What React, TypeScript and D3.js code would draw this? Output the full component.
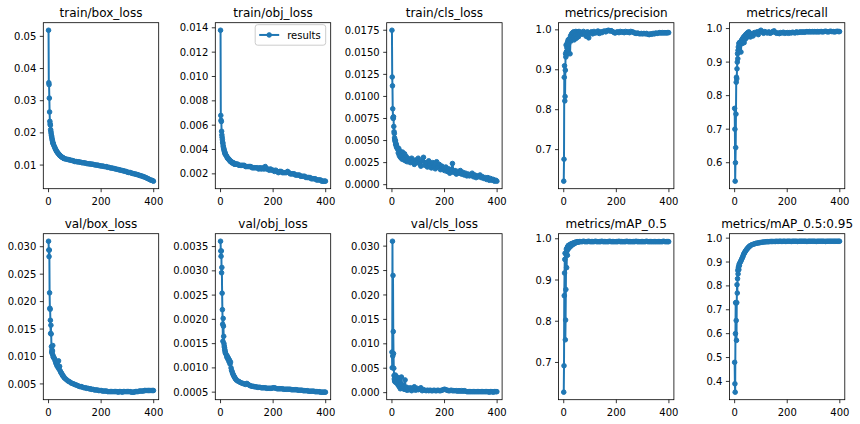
import {useEffect, useRef} from "react";
import * as d3 from "d3";

const EPOCHS = [
  0, 1, 2, 3, 4, 5, 6, 7, 8, 9, 10, 11, 12, 13, 14, 15, 16, 17, 18, 19,
  22, 24, 26, 28, 30, 32, 34, 36, 38, 40, 42, 44, 46, 48, 50, 52, 54, 56, 58, 60,
  65, 70, 75, 80, 85, 90, 95, 100,
  105, 110, 115, 120, 125, 130, 135, 140, 145, 150,
  155, 160, 165, 170, 175, 180, 185, 190, 195, 200,
  205, 210, 215, 220, 225, 230, 235, 240, 245, 250,
  255, 260, 265, 270, 275, 280, 285, 290, 295, 300,
  305, 310, 315, 320, 325, 330, 335, 340, 345, 350,
  355, 360, 365, 370, 375, 380, 385, 390, 395,
  399,
];

const trainBoxLoss = [
  0.0519, 0.0356, 0.035, 0.0308, 0.0265, 0.0236, 0.0228, 0.0224, 0.021, 0.0204, 0.0198, 0.0192, 0.0188, 0.0183, 0.0178, 0.0175, 0.0171, 0.0168, 0.0166, 0.0163,
  0.0158, 0.0154, 0.015, 0.0147, 0.0144, 0.0141, 0.0139, 0.0137, 0.0135, 0.0133, 0.0131, 0.0129, 0.0128, 0.0127, 0.0125, 0.0124, 0.0123, 0.0122, 0.0121, 0.012,
  0.0119, 0.0118, 0.0117, 0.0116, 0.0115, 0.0114, 0.0113, 0.0111,
  0.0111, 0.011, 0.011, 0.0109, 0.0108, 0.0107, 0.0107, 0.0106, 0.0105, 0.0104,
  0.0104, 0.0103, 0.0103, 0.0102, 0.0101, 0.01, 0.01, 0.0099, 0.0098, 0.0097,
  0.0097, 0.0096, 0.0095, 0.0095, 0.0093, 0.0093, 0.0091, 0.0091, 0.009, 0.0089,
  0.0088, 0.0087, 0.0086, 0.0085, 0.0084, 0.0083, 0.0082, 0.0081, 0.008, 0.0078,
  0.0077, 0.0077, 0.0075, 0.0074, 0.0073, 0.0072, 0.0071, 0.007, 0.0068, 0.0067,
  0.0066, 0.0064, 0.0063, 0.0061, 0.0059, 0.0057, 0.0055, 0.0053, 0.0052,
  0.005,
];

const trainObjLoss = [
  0.0138, 0.0068, 0.0064, 0.0063, 0.0055, 0.0052, 0.005, 0.0048, 0.0046, 0.0045, 0.0043, 0.0042, 0.0041, 0.004, 0.0039, 0.0038, 0.0038, 0.0037, 0.0036, 0.0036,
  0.0035, 0.0034, 0.0033, 0.0033, 0.0032, 0.0032, 0.0031, 0.0031, 0.003, 0.003, 0.003, 0.0029, 0.0029, 0.0029, 0.0029, 0.0028, 0.0028, 0.0028, 0.0028, 0.0028,
  0.0028, 0.0027, 0.0027, 0.0027, 0.0027, 0.0027, 0.0026, 0.0026,
  0.0026, 0.0026, 0.0026, 0.0025, 0.0025, 0.0025, 0.0025, 0.0025, 0.0024, 0.0025,
  0.0024, 0.0025, 0.0024, 0.0026, 0.0024, 0.0024, 0.0023, 0.0024, 0.0023, 0.0023,
  0.0022, 0.0023, 0.0022, 0.0021, 0.0022, 0.0022, 0.0021, 0.0021, 0.0021, 0.0021,
  0.0022, 0.0021, 0.002, 0.002, 0.002, 0.002, 0.0019, 0.0019, 0.0019, 0.0019,
  0.0018, 0.0018, 0.0018, 0.0018, 0.0017, 0.0017, 0.0017, 0.0017, 0.0016, 0.0016,
  0.0016, 0.0016, 0.0015, 0.0015, 0.0015, 0.0015, 0.0014, 0.0014, 0.0014,
  0.0014,
];

const trainClsLoss = [
  0.0175, 0.0122, 0.0112, 0.0086, 0.0076, 0.0075, 0.0077, 0.0066, 0.006, 0.0058, 0.0053, 0.0051, 0.0049, 0.005, 0.0046, 0.0047, 0.0044, 0.0045, 0.0042, 0.0043,
  0.004, 0.0036, 0.0041, 0.0033, 0.0038, 0.0031, 0.0036, 0.0034, 0.0029, 0.0037, 0.003, 0.0033, 0.0028, 0.0035, 0.0031, 0.0027, 0.0032, 0.0029, 0.0026, 0.003,
  0.0028, 0.0025, 0.003, 0.0026, 0.0023, 0.0028, 0.0025, 0.003,
  0.0024, 0.0021, 0.0027, 0.0031, 0.0022, 0.0025, 0.002, 0.0027, 0.0023, 0.0019,
  0.0025, 0.0021, 0.0018, 0.0026, 0.002, 0.0023, 0.0017, 0.0021, 0.0018, 0.0016,
  0.002, 0.0015, 0.0018, 0.0013, 0.0017, 0.0024, 0.0014, 0.0016, 0.0012, 0.0015,
  0.0013, 0.0016, 0.0012, 0.0014, 0.0011, 0.0013, 0.001, 0.0012, 0.001, 0.0011,
  0.0013, 0.0009, 0.0011, 0.0008, 0.001, 0.0009, 0.0011, 0.0008, 0.0009, 0.0007,
  0.0008, 0.0006, 0.0008, 0.0005, 0.0007, 0.0005, 0.0006, 0.0004, 0.0005,
  0.0004,
];

const precision = [
  0.621, 0.676, 0.881, 0.91, 0.822, 0.833, 0.899, 0.94, 0.932, 0.962, 0.945, 0.938, 0.955, 0.966, 0.948, 0.97, 0.958, 0.975, 0.963, 0.942,
  0.978, 0.94, 0.985, 0.972, 0.99, 0.976, 0.993, 0.981, 0.995, 0.975, 0.994, 0.985, 0.996, 0.979, 0.993, 0.988, 0.995, 0.983, 0.996, 0.99,
  0.994, 0.989, 0.996, 0.991, 0.984, 0.995, 0.98, 0.992,
  0.995, 0.99, 0.996, 0.992, 0.994, 0.997, 0.991, 0.995, 0.993, 0.996,
  0.997, 0.995, 0.998, 0.999, 0.997, 0.998, 0.996, 0.994, 0.992, 0.994,
  0.995, 0.993, 0.996, 0.994, 0.995, 0.993, 0.996, 0.994, 0.995, 0.993,
  0.996, 0.995, 0.994, 0.992, 0.991, 0.992, 0.991, 0.99, 0.991, 0.99,
  0.991, 0.99, 0.991, 0.989, 0.988, 0.99, 0.989, 0.991, 0.99, 0.992,
  0.991, 0.992, 0.993, 0.992, 0.993, 0.992, 0.993, 0.992, 0.993,
  0.993,
];

const recall = [
  0.762, 0.7, 0.545, 0.6, 0.645, 0.745, 0.84, 0.855, 0.85, 0.88, 0.9, 0.925, 0.91, 0.935, 0.945, 0.93, 0.955, 0.94, 0.958, 0.95,
  0.96, 0.93, 0.965, 0.955, 0.97, 0.962, 0.975, 0.958, 0.978, 0.968, 0.982, 0.972, 0.985, 0.975, 0.988, 0.978, 0.99, 0.98, 0.986, 0.975,
  0.983, 0.978, 0.988, 0.985, 0.99, 0.982, 0.992, 0.995,
  0.99, 0.986, 0.991, 0.988, 0.987, 0.99, 0.986, 0.988, 0.991, 0.993,
  0.988, 0.986, 0.987, 0.985, 0.988, 0.987, 0.989, 0.986, 0.987, 0.988,
  0.986, 0.988, 0.987, 0.989, 0.988, 0.987, 0.99, 0.988, 0.989, 0.99,
  0.989, 0.99, 0.989, 0.99, 0.991, 0.99, 0.991, 0.99, 0.991, 0.99,
  0.991, 0.99, 0.991, 0.99, 0.991, 0.991, 0.99, 0.991, 0.992, 0.991,
  0.99, 0.991, 0.992, 0.991, 0.991, 0.99, 0.991, 0.992, 0.991,
  0.991,
];

const valBoxLoss = [
  0.031, 0.0294, 0.0282, 0.0294, 0.0216, 0.0188, 0.0186, 0.0166, 0.0142, 0.0157, 0.0141, 0.0118, 0.0108, 0.0112, 0.0105, 0.011, 0.012, 0.0102, 0.0099, 0.0098,
  0.0097, 0.0094, 0.0091, 0.0088, 0.0086, 0.0083, 0.009, 0.008, 0.0092, 0.0077, 0.0082, 0.0074, 0.0072, 0.007, 0.0069, 0.0067, 0.0065, 0.0064, 0.0063, 0.0061,
  0.0059, 0.0057, 0.0055, 0.0054, 0.0052, 0.0051, 0.005, 0.0049,
  0.0048, 0.0047, 0.0046, 0.0045, 0.0045, 0.0044, 0.0043, 0.0043, 0.0042, 0.0042,
  0.0041, 0.0041, 0.004, 0.004, 0.0039, 0.0039, 0.0039, 0.0038, 0.0038, 0.0038,
  0.0037, 0.0037, 0.0037, 0.0037, 0.0036, 0.0036, 0.0036, 0.0036, 0.0036, 0.0036,
  0.0036, 0.0036, 0.0035, 0.0036, 0.0036, 0.0035, 0.0036, 0.0036, 0.0036, 0.0036,
  0.0036, 0.0036, 0.0035, 0.0035, 0.0035, 0.0036, 0.0036, 0.0036, 0.0037, 0.0037,
  0.0037, 0.0037, 0.0038, 0.0038, 0.0038, 0.0038, 0.0038, 0.0038, 0.0038,
  0.0038,
];

const valObjLoss = [
  0.00361, 0.00341, 0.0033, 0.00341, 0.00296, 0.00307, 0.00254, 0.0022, 0.0019, 0.00155, 0.00202, 0.00186, 0.00165, 0.0015, 0.00145, 0.00142, 0.00138, 0.00135, 0.00132, 0.0013,
  0.00127, 0.00122, 0.00124, 0.00118, 0.0012, 0.00113, 0.00116, 0.00108, 0.00112, 0.001, 0.00095, 0.00092, 0.00089, 0.00086, 0.00084, 0.00082, 0.0008, 0.00078, 0.00077, 0.00075,
  0.00073, 0.00072, 0.0007, 0.00069, 0.00068, 0.00067, 0.00066, 0.00068,
  0.00066, 0.00064, 0.00063, 0.00062, 0.00062, 0.00061, 0.00061, 0.0006, 0.0006, 0.0006,
  0.00059, 0.00059, 0.00059, 0.00059, 0.00058, 0.00058, 0.00058, 0.00058, 0.00058, 0.00059,
  0.00059, 0.00058, 0.00057, 0.00057, 0.00057, 0.00057, 0.00057, 0.00056, 0.00056, 0.00056,
  0.00056, 0.00056, 0.00056, 0.00055, 0.00055, 0.00055, 0.00055, 0.00055, 0.00054, 0.00054,
  0.00054, 0.00054, 0.00053, 0.00053, 0.00053, 0.00053, 0.00052, 0.00052, 0.00052, 0.00052,
  0.00052, 0.00051, 0.00051, 0.00051, 0.00051, 0.0005, 0.0005, 0.0005, 0.0005,
  0.0005,
];

const valClsLoss = [
  0.0083, 0.0051, 0.031, 0.0075, 0.024, 0.0125, 0.008, 0.005, 0.0035, 0.0028, 0.0024, 0.0033, 0.0022, 0.0036, 0.0026, 0.003, 0.0021, 0.0033, 0.0025, 0.0019,
  0.0028, 0.0015, 0.003, 0.0012, 0.0022, 0.0008, 0.0018, 0.0032, 0.001, 0.0016, 0.0009, 0.0013, 0.0007, 0.0012, 0.0026, 0.0009, 0.0006, 0.0011, 0.0005, 0.0009,
  0.0006, 0.001, 0.0004, 0.0008, 0.0012, 0.0005, 0.0009, 0.0006,
  0.0007, 0.001, 0.0004, 0.0006, 0.0005, 0.0004, 0.0005, 0.0004, 0.0005, 0.0004,
  0.0004, 0.0005, 0.0004, 0.0004, 0.0005, 0.0004, 0.0004, 0.0005, 0.0006, 0.0007,
  0.0006, 0.0005, 0.0004, 0.0004, 0.0005, 0.0004, 0.0004, 0.0004, 0.0004, 0.0003,
  0.0004, 0.0003, 0.0004, 0.0003, 0.0004, 0.0003, 0.0002, 0.0002, 0.0002, 0.0002,
  0.0002, 0.0002, 0.0002, 0.0002, 0.0002, 0.0002, 0.0002, 0.0002, 0.0002, 0.0002,
  0.0002, 0.0002, 0.0002, 0.0001, 0.0002, 0.0002, 0.0001, 0.0002, 0.0002,
  0.0002,
];

const mAP50 = [
  0.628, 0.692, 0.862, 0.917, 0.95, 0.965, 0.755, 0.803, 0.877, 0.962, 0.975, 0.93, 0.97, 0.978, 0.96, 0.98, 0.982, 0.975, 0.984, 0.978,
  0.985, 0.98, 0.987, 0.983, 0.988, 0.985, 0.989, 0.987, 0.99, 0.988, 0.991, 0.99, 0.992, 0.991, 0.992, 0.992, 0.993, 0.992, 0.993, 0.993,
  0.993, 0.993, 0.994, 0.993, 0.993, 0.993, 0.994, 0.993,
  0.993, 0.993, 0.993, 0.994, 0.993, 0.993, 0.993, 0.993, 0.994, 0.993,
  0.993, 0.993, 0.993, 0.993, 0.994, 0.993, 0.993, 0.993, 0.993, 0.993,
  0.993, 0.994, 0.993, 0.993, 0.993, 0.993, 0.993, 0.994, 0.993, 0.993,
  0.993, 0.993, 0.993, 0.993, 0.994, 0.993, 0.993, 0.993, 0.993, 0.993,
  0.993, 0.993, 0.994, 0.993, 0.993, 0.993, 0.993, 0.993, 0.993, 0.993,
  0.993, 0.993, 0.993, 0.993, 0.993, 0.994, 0.993, 0.993, 0.993,
  0.993,
];

const mAP5095 = [
  0.48, 0.39, 0.355, 0.6, 0.73, 0.728, 0.655, 0.572, 0.73, 0.805, 0.77, 0.83, 0.865, 0.85, 0.875, 0.88, 0.868, 0.89, 0.885, 0.895,
  0.9, 0.905, 0.91, 0.915, 0.92, 0.925, 0.932, 0.935, 0.94, 0.943, 0.947, 0.95, 0.953, 0.956, 0.958, 0.961, 0.963, 0.965, 0.967, 0.969,
  0.972, 0.974, 0.976, 0.978, 0.979, 0.98, 0.981, 0.982,
  0.983, 0.984, 0.984, 0.985, 0.985, 0.985, 0.986, 0.986, 0.986, 0.986,
  0.986, 0.987, 0.986, 0.987, 0.987, 0.986, 0.987, 0.987, 0.986, 0.987,
  0.987, 0.987, 0.986, 0.987, 0.987, 0.987, 0.987, 0.986, 0.987, 0.987,
  0.987, 0.987, 0.987, 0.987, 0.986, 0.987, 0.987, 0.987, 0.987, 0.987,
  0.987, 0.986, 0.987, 0.987, 0.987, 0.987, 0.987, 0.987, 0.986, 0.987,
  0.987, 0.987, 0.987, 0.987, 0.987, 0.987, 0.987, 0.987, 0.987,
  0.987,
];

// tick labels per panel
const X_TICKS = ["0", "200", "400"];
const TICKS_TRAIN_BOX = ["0.01", "0.02", "0.03", "0.04", "0.05"];
const TICKS_TRAIN_OBJ = ["0.002", "0.004", "0.006", "0.008", "0.010", "0.012", "0.014"];
const TICKS_TRAIN_CLS = ["0.0000", "0.0025", "0.0050", "0.0075", "0.0100", "0.0125", "0.0150", "0.0175"];
const TICKS_PRECISION = ["0.7", "0.8", "0.9", "1.0"];
const TICKS_RECALL = ["0.6", "0.7", "0.8", "0.9", "1.0"];
const TICKS_VAL_BOX = ["0.005", "0.010", "0.015", "0.020", "0.025", "0.030"];
const TICKS_VAL_OBJ = ["0.0005", "0.0010", "0.0015", "0.0020", "0.0025", "0.0030", "0.0035"];
const TICKS_VAL_CLS = ["0.000", "0.005", "0.010", "0.015", "0.020", "0.025", "0.030"];
const TICKS_MAP50 = ["0.7", "0.8", "0.9", "1.0"];
const TICKS_MAP5095 = ["0.4", "0.5", "0.6", "0.7", "0.8", "0.9", "1.0"];

const PANELS = [
  {title: "train/box_loss", values: trainBoxLoss, yTicks: TICKS_TRAIN_BOX},
  {title: "train/obj_loss", values: trainObjLoss, yTicks: TICKS_TRAIN_OBJ},
  {title: "train/cls_loss", values: trainClsLoss, yTicks: TICKS_TRAIN_CLS},
  {title: "metrics/precision", values: precision, yTicks: TICKS_PRECISION},
  {title: "metrics/recall", values: recall, yTicks: TICKS_RECALL},
  {title: "val/box_loss", values: valBoxLoss, yTicks: TICKS_VAL_BOX},
  {title: "val/obj_loss", values: valObjLoss, yTicks: TICKS_VAL_OBJ},
  {title: "val/cls_loss", values: valClsLoss, yTicks: TICKS_VAL_CLS},
  {title: "metrics/mAP_0.5", values: mAP50, yTicks: TICKS_MAP50},
  {title: "metrics/mAP_0.5:0.95", values: mAP5095, yTicks: TICKS_MAP5095},
];

const W = 860;
const H = 424;
const COL_LEFT = [43.3, 215.3, 386.7, 558.5, 729.4];
const ROW_TOP = [22.7, 233.7];
const AX_W = 115.4;
const AX_H = 166;
const BLUE = "#1f77b4";
const FONT = "DejaVu Sans, sans-serif";
const DOT_R = 2.3;

export default function App() {
  const svgRef = useRef<SVGSVGElement>(null);

  useEffect(() => {
    if (!svgRef.current) return;
    const svg = d3.select(svgRef.current);
    svg.selectAll("*").remove();
    svg.append("rect").attr("width", W).attr("height", H).attr("fill", "#fff");

    const [x0, x1] = d3.extent(EPOCHS) as [number, number];
    const xPad = (x1 - x0) * 0.05;

    PANELS.forEach((p, i) => {
      const left = COL_LEFT[i % 5];
      const top = ROW_TOP[Math.floor(i / 5)];
      const x = d3.scaleLinear().domain([x0 - xPad, x1 + xPad]).range([left, left + AX_W]);
      const [lo, hi] = d3.extent(p.values) as [number, number];
      const pad = (hi - lo) * 0.05;
      const y = d3.scaleLinear().domain([lo - pad, hi + pad]).range([top + AX_H, top]);

      const g = svg.append("g");
      const clipId = `clip-${i}`;
      g.append("clipPath").attr("id", clipId).append("rect")
        .attr("x", left).attr("y", top).attr("width", AX_W).attr("height", AX_H);

      const pts = EPOCHS.map((e, k) => [e, p.values[k]] as [number, number]);
      const plot = g.append("g").attr("clip-path", `url(#${clipId})`);
      plot.append("path")
        .datum(pts)
        .attr("d", d3.line<[number, number]>().x((d) => x(d[0])).y((d) => y(d[1])))
        .attr("fill", "none")
        .attr("stroke", BLUE)
        .attr("stroke-width", 2)
        .attr("stroke-linejoin", "round");
      plot.selectAll("circle")
        .data(pts)
        .join("circle")
        .attr("cx", (d) => x(d[0]))
        .attr("cy", (d) => y(d[1]))
        .attr("r", DOT_R)
        .attr("fill", BLUE)
        .attr("stroke", BLUE)
        .attr("stroke-width", 1);

      // marco de los ejes
      g.append("rect")
        .attr("x", left).attr("y", top).attr("width", AX_W).attr("height", AX_H)
        .attr("fill", "none").attr("stroke", "#000").attr("stroke-width", 0.8);

      // ticks y
      p.yTicks.forEach((lbl) => {
        const ty = y(+lbl);
        g.append("line").attr("x1", left - 3.5).attr("x2", left).attr("y1", ty).attr("y2", ty)
          .attr("stroke", "#000").attr("stroke-width", 0.8);
        g.append("text").attr("x", left - 7).attr("y", ty).attr("dy", "0.36em")
          .attr("text-anchor", "end").attr("font-family", FONT).attr("font-size", 10)
          .attr("fill", "#000").text(lbl);
      });

      // ticks x
      X_TICKS.forEach((lbl) => {
        const tx = x(+lbl);
        g.append("line").attr("x1", tx).attr("x2", tx).attr("y1", top + AX_H).attr("y2", top + AX_H + 3.5)
          .attr("stroke", "#000").attr("stroke-width", 0.8);
        g.append("text").attr("x", tx).attr("y", top + AX_H + 16.5)
          .attr("text-anchor", "middle").attr("font-family", FONT).attr("font-size", 10)
          .attr("fill", "#000").text(lbl);
      });

      // título
      g.append("text").attr("x", left + AX_W / 2).attr("y", top - 5.5)
        .attr("text-anchor", "middle").attr("font-family", FONT).attr("font-size", 12)
        .attr("fill", "#000").text(p.title);

      // leyenda solo en train/obj_loss
      if (i === 1) {
        const bw = 70.5;
        const bh = 20.5;
        const bx = left + AX_W - 5 - bw;
        const by = top + 2;
        const lg = g.append("g");
        lg.append("rect").attr("x", bx).attr("y", by).attr("width", bw).attr("height", bh)
          .attr("rx", 2.5).attr("fill", "#fff").attr("fill-opacity", 0.8)
          .attr("stroke", "#ccc").attr("stroke-width", 1);
        const ly = by + bh / 2;
        lg.append("line").attr("x1", bx + 4).attr("x2", bx + 24).attr("y1", ly).attr("y2", ly)
          .attr("stroke", BLUE).attr("stroke-width", 2);
        lg.append("circle").attr("cx", bx + 14).attr("cy", ly).attr("r", DOT_R)
          .attr("fill", BLUE).attr("stroke", BLUE).attr("stroke-width", 1);
        lg.append("text").attr("x", bx + 32).attr("y", ly).attr("dy", "0.36em")
          .attr("font-family", FONT).attr("font-size", 10).attr("fill", "#000").text("results");
      }
    });
  }, []);

  return (
    <svg
      ref={svgRef}
      width={W}
      height={H}
      style={{position: "absolute", left: 0, top: 0, display: "block"}}
    />
  );
}
